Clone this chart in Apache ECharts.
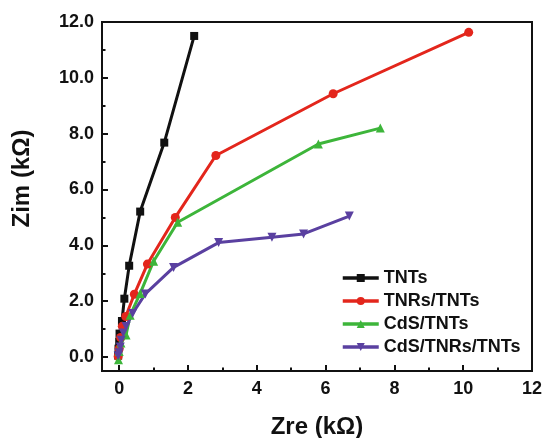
<!DOCTYPE html>
<html>
<head>
<meta charset="utf-8">
<script src="https://cdn.jsdelivr.net/npm/echarts@6/dist/echarts.min.js"></script>
<style>
  html, body { margin: 0; padding: 0; background: #fff; }
  #chart { width: 544px; height: 438px; }
</style>
</head>
<body>
<div id="chart"></div>
<script>
// Nyquist data, [Zre, Zim] in kOhm
const tnts = [
  [-0.03, 0.05], [-0.02, 0.3], [0.0, 0.55], [0.01, 0.84], [0.08, 1.29],
  [0.15, 2.09], [0.29, 3.27], [0.61, 5.21], [1.31, 7.68], [2.18, 11.5],
];
const tnrsTnts = [
  [-0.03, 0.02], [0.0, 0.3], [0.04, 0.7], [0.09, 1.1], [0.19, 1.45],
  [0.44, 2.25], [0.82, 3.33], [1.63, 5.0], [2.81, 7.22], [6.22, 9.43], [10.16, 11.63],
];
const cdsTnts = [
  [-0.02, -0.1], [0.0, 0.2], [0.05, 0.5], [0.2, 0.79], [0.32, 1.5],
  [0.61, 2.28], [1.0, 3.43], [1.7, 4.83], [5.79, 7.63], [7.59, 8.2],
];
const cdsTnrsTnts = [
  [-0.03, 0.05], [0.0, 0.15], [0.03, 0.36], [0.06, 0.6], [0.12, 0.86],
  [0.2, 1.09], [0.39, 1.56], [0.76, 2.26], [1.58, 3.21], [2.89, 4.1],
  [4.44, 4.29], [5.36, 4.41], [6.69, 5.05],
];

const seriesNames = ['TNTs', 'TNRs/TNTs', 'CdS/TNTs', 'CdS/TNRs/TNTs'];
const majorTicks = [0, 2, 4, 6, 8, 10, 12];
const minorTicks = [1, 3, 5, 7, 9, 11];

const FONT = '"Liberation Sans", Arial, sans-serif';
const chart = echarts.init(document.getElementById('chart'));

function mainAxis(name, nameGap, labelFmt, extra) {
  return {
    type: 'value',
    min: -0.5,
    max: 12,
    name,
    nameLocation: 'middle',
    nameGap,
    nameTextStyle: { fontFamily: FONT, fontWeight: 'bold', fontSize: 24, color: '#111', ...(extra || {}) },
    axisLine: { show: true, onZero: false, lineStyle: { color: '#111', width: 2 } },
    axisTick: { show: true, inside: true, length: 6, customValues: majorTicks, lineStyle: { color: '#111', width: 2 } },
    axisLabel: {
      customValues: majorTicks,
      fontFamily: FONT, fontWeight: 'bold', fontSize: 18, color: '#111',
      formatter: labelFmt,
    },
    splitLine: { show: false },
  };
}

function minorAxis() {
  return {
    type: 'value',
    min: -0.5,
    max: 12,
    axisLine: { show: false, onZero: false },
    axisTick: { show: true, inside: true, length: 3.5, customValues: minorTicks, lineStyle: { color: '#111', width: 2 } },
    axisLabel: { show: false },
    splitLine: { show: false },
  };
}

const xMain = mainAxis('Zre (kΩ)', 44, (v) => String(v));
xMain.axisLabel.margin = 9;
const yMain = mainAxis('Zim (kΩ)', 68, (v) => v.toFixed(1), { padding: [0, 0, 0, 36] });
yMain.axisLabel.margin = 8;

const xMinor = { ...minorAxis(), position: 'bottom' };
const yMinor = { ...minorAxis(), position: 'left' };

function makeSeries(name, data, color, symbol, rotate) {
  return {
    name,
    type: 'line',
    data,
    xAxisIndex: 0,
    yAxisIndex: 0,
    symbol,
    symbolSize: symbol === 'rect' ? 8 : 9,
    symbolRotate: rotate || 0,
    showAllSymbol: true,
    lineStyle: { color, width: 3 },
    itemStyle: { color },
    emphasis: { disabled: true },
    z: 2,
  };
}

chart.setOption({
  animation: false,
  backgroundColor: '#fff',
  grid: {
    left: 102, right: 12, top: 22, bottom: 67,
    outerBoundsMode: 'none',
    containLabel: false,
    show: true, borderColor: '#111', borderWidth: 2,
  },
  xAxis: [xMain, xMinor],
  yAxis: [yMain, yMinor],
  legend: {
    data: seriesNames,
    orient: 'vertical',
    left: 336,
    top: 264,
    itemWidth: 36,
    itemHeight: 10,
    itemGap: 5,
    lineStyle: { width: 3.5 },
    textStyle: { fontFamily: FONT, fontWeight: 'bold', fontSize: 18, color: '#111' },
  },
  series: [
    makeSeries(seriesNames[0], tnts, '#111111', 'rect'),
    makeSeries(seriesNames[1], tnrsTnts, '#e3261c', 'circle'),
    makeSeries(seriesNames[2], cdsTnts, '#3db53a', 'triangle'),
    makeSeries(seriesNames[3], cdsTnrsTnts, '#5a40a0', 'triangle', 180),
  ],
});
</script>
</body>
</html>
